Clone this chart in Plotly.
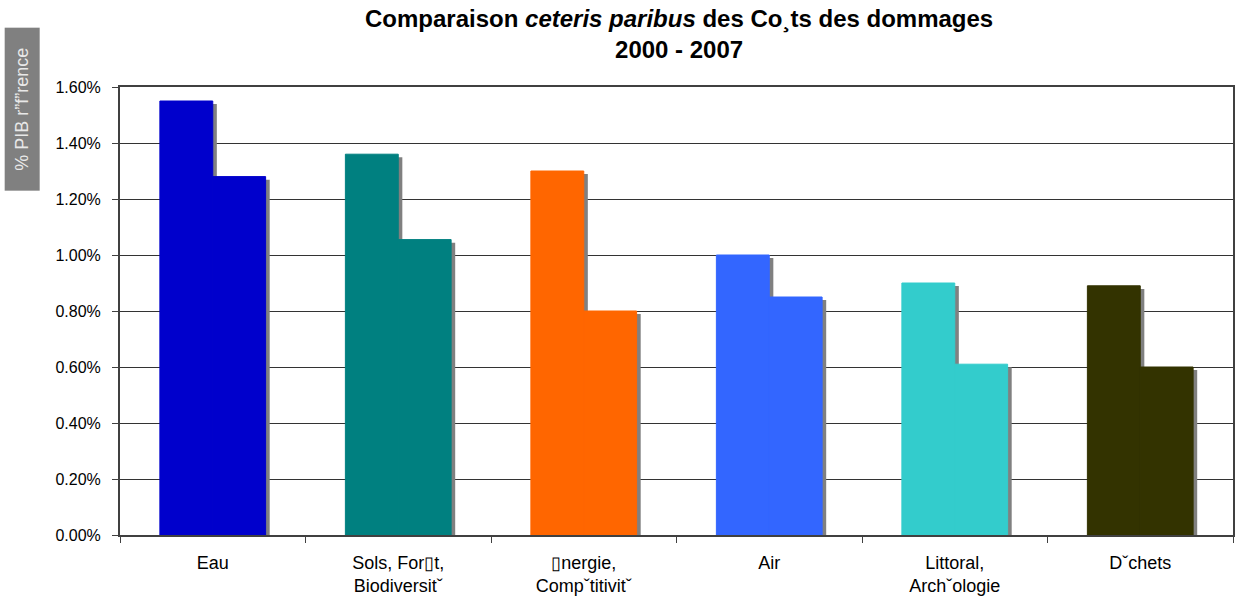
import plotly.graph_objects as go

categories = ["Eau", "Sols, For\u25aft,<br>Biodiversit\u02c7", "\u25afnergie,<br>Comp\u02c7titivit\u02c7",
              "Air", "Littoral,<br>Arch\u02c7ologie", "D\u02c7chets"]
costs_first = [0.0155, 0.0136, 0.0130, 0.0100, 0.0090, 0.0089]
costs_second = [0.0128, 0.01055, 0.0080, 0.0085, 0.0061, 0.0060]
colors = ["#0000CC", "#008080", "#FF6600", "#3366FF", "#33CCCC", "#333300"]
y_ticks = [0, 0.002, 0.004, 0.006, 0.008, 0.010, 0.012, 0.014, 0.016]

BW = 0.285      # bar width in category units
SH_X = 0.022    # shadow shift (category units)
SH_Y = 0.00011  # shadow drop (value units)

fig = go.Figure()
for vals, off in ((costs_first, -BW), (costs_second, 0.0)):
    fig.add_trace(go.Bar(x=categories, y=[v - SH_Y for v in vals], width=BW, offset=off + SH_X,
                         marker=dict(color="#808080", line=dict(width=0)),
                         hoverinfo="skip", showlegend=False))
for vals, off in ((costs_first, -BW), (costs_second, 0.0)):
    fig.add_trace(go.Bar(x=categories, y=vals, width=BW, offset=off,
                         marker=dict(color=colors, line=dict(width=1, color=colors)),
                         showlegend=False))

fig.update_layout(
    width=1236, height=605,
    barmode="overlay",
    plot_bgcolor="white", paper_bgcolor="white",
    margin=dict(l=120, r=1, t=87, b=70),
    font=dict(family="Liberation Sans, Arial, sans-serif", color="black"),
    xaxis=dict(type="category", showline=True, linecolor="#404040", linewidth=2, mirror=True,
               ticks="outside", tickson="boundaries", ticklen=6, tickcolor="#404040", tickwidth=1,
               showgrid=False, tickfont=dict(size=18), range=[-0.5, 5.5], ticklabelstandoff=10),
    yaxis=dict(range=[0, 0.016], tickvals=y_ticks, tickformat=".2%", showline=True,
               linecolor="#404040", linewidth=2, mirror=True, ticks="outside", ticklen=6,
               tickcolor="#404040", showgrid=True, gridcolor="#333333", gridwidth=1.2,
               tickfont=dict(size=16), ticklabelstandoff=8, zeroline=False),
)

fig.add_annotation(text="<b>Comparaison <i>ceteris paribus</i> des Co\u00b8ts des dommages<br>2000 - 2007</b>",
                   xref="paper", yref="paper", x=(680 - 120) / 1115, y=(535 - 34) / 448,
                   xanchor="center", yanchor="middle", showarrow=False,
                   font=dict(size=24, color="black"))

fig.add_annotation(text="% PIB r\u201df\u201drence", xref="paper", yref="paper",
                   x=(22 - 120) / 1115, y=(535 - 109) / 448, xanchor="center", yanchor="middle",
                   textangle=-90, showarrow=False, bgcolor="#808080",
                   font=dict(size=18, color="#E8E8E8"), width=158, height=30, borderpad=2)

fig.write_html("out.html")
